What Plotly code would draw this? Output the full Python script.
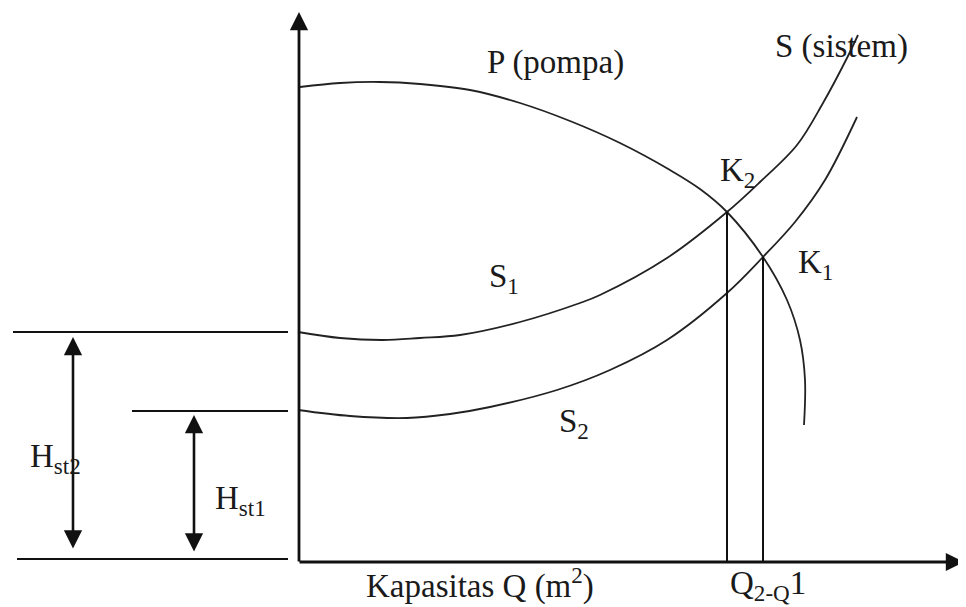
import plotly.graph_objects as go

# schematic: pump curve vs two system curves, coordinates in picture units (y grows downward)
pump_x = [300, 340, 380, 420, 470, 520, 570, 620, 670, 700, 727, 763, 787, 800, 805, 804]
pump_y = [87, 83, 82, 84, 90, 103, 121, 143, 170, 189, 212, 257, 300, 340, 380, 425]

s1_x = [298, 340, 383, 420, 460, 520, 580, 600, 667, 727, 760, 797, 823, 847, 858]
s1_y = [332, 338, 340, 338, 335, 322, 303, 295, 258, 212, 182, 145, 103, 58, 35]

s2_x = [298, 350, 407, 450, 490, 557, 610, 667, 727, 763, 795, 825, 857]
s2_y = [410, 416, 418, 414, 407, 390, 370, 340, 293, 257, 222, 180, 117]

# operating points K2, K1 and their drop lines to the Q axis
k_x = [727, 763]
k_y = [212, 257]
axis_x = 299
axis_y = 562

# static head reference levels
hst2_level = 332
hst1_level = 411
ground_level = 559

FONT = "Liberation Serif, Times New Roman, serif"
LINE = dict(color="#111", width=2)

fig = go.Figure()
for xs, ys in [(pump_x, pump_y), (s1_x, s1_y), (s2_x, s2_y)]:
    fig.add_trace(go.Scatter(x=xs, y=ys, mode="lines", line=dict(color="#222", width=1.8, shape="spline"),
                             hoverinfo="skip"))

for kx, ky in zip(k_x, k_y):
    fig.add_trace(go.Scatter(x=[kx, kx], y=[ky, axis_y], mode="lines", line=LINE, hoverinfo="skip"))

# horizontal guide lines on the left
fig.add_trace(go.Scatter(x=[13, 288], y=[hst2_level, hst2_level], mode="lines", line=LINE, hoverinfo="skip"))
fig.add_trace(go.Scatter(x=[132, 288], y=[hst1_level, hst1_level], mode="lines", line=LINE, hoverinfo="skip"))
fig.add_trace(go.Scatter(x=[17, 288], y=[ground_level, ground_level], mode="lines", line=LINE, hoverinfo="skip"))

# axes with arrows
fig.add_annotation(x=axis_x, y=12, ax=axis_x, ay=axis_y + 1, xref="x", yref="y", axref="x", ayref="y",
                   showarrow=True, arrowhead=2, arrowsize=1.3, arrowwidth=2.8, arrowcolor="#111", text="")
fig.add_annotation(x=964, y=axis_y, ax=axis_x - 1, ay=axis_y, xref="x", yref="y", axref="x", ayref="y",
                   showarrow=True, arrowhead=2, arrowsize=1.3, arrowwidth=2.8, arrowcolor="#111", text="")

# double arrows for static heads
fig.add_annotation(x=73, y=hst2_level + 5, ax=73, ay=550, xref="x", yref="y", axref="x", ayref="y",
                   showarrow=True, arrowhead=2, startarrowhead=2, arrowside="end+start",
                   arrowsize=1.4, startarrowsize=1.4, arrowwidth=2.6, arrowcolor="#111", text="")
fig.add_annotation(x=194, y=hst1_level + 4, ax=194, ay=553, xref="x", yref="y", axref="x", ayref="y",
                   showarrow=True, arrowhead=2, startarrowhead=2, arrowside="end+start",
                   arrowsize=1.4, startarrowsize=1.4, arrowwidth=2.6, arrowcolor="#111", text="")

labels = [
    ("P (pompa)", 555, 62),
    ("S (sistem)", 841, 46),
    ("K<sub>2</sub>", 737, 172),
    ("K<sub>1</sub>", 815, 264),
    ("S<sub>1</sub>", 504, 278),
    ("S<sub>2</sub>", 574, 423),
    ("H<sub>st2</sub>", 55, 458),
    ("H<sub>st1</sub>", 240, 500),
    ("Kapasitas Q (m<sup>2</sup>)", 480, 583),
    ("Q<sub>2-Q</sub>1", 768, 585),
]
for txt, lx, ly in labels:
    fig.add_annotation(x=lx, y=ly, xref="x", yref="y", text=txt, showarrow=False,
                       font=dict(family=FONT, size=33, color="#1a1a1a"))

# the page body has an 8px margin, so the figure is 8px smaller and the ranges start at 8
fig.update_layout(
    width=958, height=599,
    margin=dict(l=0, r=0, t=0, b=0),
    showlegend=False,
    plot_bgcolor="white", paper_bgcolor="white",
    xaxis=dict(range=[8, 966], visible=False),
    yaxis=dict(range=[607, 8], visible=False),
)

fig.write_html("out.html")
